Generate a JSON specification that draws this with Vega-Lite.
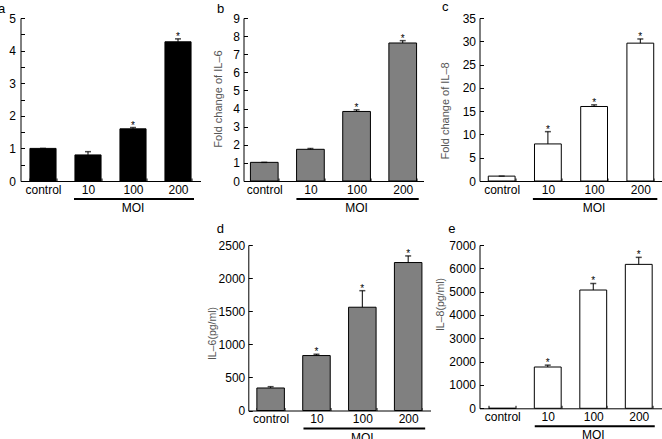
{
  "$schema": "https://vega.github.io/schema/vega-lite/v6.json",
  "autosize": {"type": "none"},
  "padding": {"left": 20.5, "top": 18, "right": 641.5, "bottom": 421},
  "background": "white",
  "bounds": "flush",
  "align": "each",
  "columns": 5,
  "spacing": {"row": 64, "column": 0},
  "datasets": {
    "bars": [
      {"panel": "a", "group": "control", "value": 1.0, "upper": 1.0, "sig": false},
      {"panel": "a", "group": "10", "value": 0.8, "upper": 0.9, "sig": false},
      {"panel": "a", "group": "100", "value": 1.6, "upper": 1.64, "sig": true},
      {"panel": "a", "group": "200", "value": 4.27, "upper": 4.36, "sig": true},
      {"panel": "b", "group": "control", "value": 1.03, "upper": 1.03, "sig": false},
      {"panel": "b", "group": "10", "value": 1.75, "upper": 1.8, "sig": false},
      {"panel": "b", "group": "100", "value": 3.84, "upper": 3.93, "sig": true},
      {"panel": "b", "group": "200", "value": 7.62, "upper": 7.75, "sig": true},
      {"panel": "c", "group": "control", "value": 1.05, "upper": 1.05, "sig": false},
      {"panel": "c", "group": "10", "value": 7.96, "upper": 10.6, "sig": true},
      {"panel": "c", "group": "100", "value": 16.0, "upper": 16.35, "sig": true},
      {"panel": "c", "group": "200", "value": 29.6, "upper": 30.5, "sig": true},
      {"panel": "d", "group": "control", "value": 340, "upper": 360, "sig": false},
      {"panel": "d", "group": "10", "value": 830, "upper": 850, "sig": true},
      {"panel": "d", "group": "100", "value": 1560, "upper": 1810, "sig": true},
      {"panel": "d", "group": "200", "value": 2235, "upper": 2335, "sig": true},
      {"panel": "e", "group": "control", "value": 0, "upper": 0, "sig": false},
      {"panel": "e", "group": "10", "value": 1770, "upper": 1850, "sig": true},
      {"panel": "e", "group": "100", "value": 5070, "upper": 5350, "sig": true},
      {"panel": "e", "group": "200", "value": 6170, "upper": 6470, "sig": true}
    ],
    "moi": [
      {"label": "MOI", "from": "10", "mid": "100", "to": "200"}
    ],
    "blank": [{"v": 0}]
  },
  "concat": [
    {
      "width": 180, "height": 163,
      "title": {"text": "a", "anchor": "start", "frame": "group", "dx": -22.5, "offset": 0, "dy": 10, "baseline": "middle"},
      "data": {"name": "bars"},
      "resolve": {"axis": {"x": "independent", "y": "independent"}},
      "layer": [
        {"transform": [{"filter": "datum.panel === 'a'"}],
         "mark": {"type": "bar", "fill": "#000000", "stroke": "#000000", "strokeWidth": 1},
         "encoding": {
           "x": {"field": "group", "type": "nominal", "scale": {"domain": ["control", "10", "100", "200"], "paddingInner": 0.42, "paddingOuter": 0.21},
                 "axis": {"title": null, "labelAngle": 0, "tickBand": "extent", "tickSize": -3, "labelPadding": 6}},
           "y": {"field": "value", "type": "quantitative", "scale": {"domain": [0, 5], "nice": false},
                 "axis": {"title": "Fold change of IL–1β", "format": "~g", "values": [0, 0.5, 1, 1.5, 2, 2.5, 3, 3.5, 4, 4.5, 5], "labelExpr": "datum.value % 1 === 0 ? datum.label : ''", "labelOverlap": false, "tickSize": -4, "labelPadding": 9, "titleX": -21, "titleY": 81.5, "titleAlign": "center", "titleAngle": -90}}
         }},
        {"transform": [{"filter": "datum.panel === 'a'"}],
         "mark": {"type": "rule", "stroke": "#000000", "strokeWidth": 1},
         "encoding": {"x": {"field": "group", "type": "nominal", "axis": null}, "y": {"field": "value", "type": "quantitative", "axis": null}, "y2": {"field": "upper"}}},
        {"transform": [{"filter": "datum.panel === 'a'"}],
         "mark": {"type": "tick", "color": "#000000", "size": 6, "thickness": 1.5},
         "encoding": {"x": {"field": "group", "type": "nominal", "axis": null}, "y": {"field": "upper", "type": "quantitative", "axis": null}}},
        {"transform": [{"filter": "datum.panel === 'a' && datum.sig"}],
         "mark": {"type": "text", "text": "*", "fontSize": 10, "baseline": "alphabetic", "dy": 1, "fill": "#000000"},
         "encoding": {"x": {"field": "group", "type": "nominal", "axis": null}, "y": {"field": "upper", "type": "quantitative", "axis": null}}},
        {"data": {"name": "moi"},
         "mark": {"type": "rule", "stroke": "#000000", "strokeWidth": 2, "xOffset": -14, "x2Offset": 16, "yOffset": 18},
         "encoding": {"x": {"field": "from", "type": "nominal", "axis": null}, "x2": {"field": "to"}, "y": {"datum": 0, "type": "quantitative", "axis": null}}},
        {"data": {"name": "moi"},
         "mark": {"type": "text", "fontSize": 12, "baseline": "middle", "yOffset": 27, "fill": "#000000"},
         "encoding": {"x": {"field": "mid", "type": "nominal", "axis": null}, "y": {"datum": 0, "type": "quantitative", "axis": null}, "text": {"field": "label"}}}
      ]
    },
    {"width": 43, "height": 163, "data": {"name": "blank"}, "mark": {"type": "point", "opacity": 0}, "encoding": {}},
    {
      "width": 180, "height": 163,
      "title": {"text": "b", "anchor": "start", "frame": "group", "dx": -26.5, "offset": 0, "dy": 10, "baseline": "middle"},
      "data": {"name": "bars"},
      "resolve": {"axis": {"x": "independent", "y": "independent"}},
      "layer": [
        {"transform": [{"filter": "datum.panel === 'b'"}],
         "mark": {"type": "bar", "fill": "#808080", "stroke": "#000000", "strokeWidth": 1},
         "encoding": {
           "x": {"field": "group", "type": "nominal", "scale": {"domain": ["control", "10", "100", "200"], "paddingInner": 0.4, "paddingOuter": 0.15},
                 "axis": {"title": null, "labelAngle": 0, "tickBand": "extent", "tickSize": -3, "labelPadding": 6}},
           "y": {"field": "value", "type": "quantitative", "scale": {"domain": [0, 9], "nice": false},
                 "axis": {"title": "Fold change of IL–6", "values": [0, 1, 2, 3, 4, 5, 6, 7, 8, 9], "labelOverlap": false, "tickSize": -4, "labelPadding": 8, "titleX": -19.8, "titleY": 80.5, "titleAlign": "center", "titleAngle": -90}}
         }},
        {"transform": [{"filter": "datum.panel === 'b'"}],
         "mark": {"type": "rule", "stroke": "#000000", "strokeWidth": 1},
         "encoding": {"x": {"field": "group", "type": "nominal", "axis": null}, "y": {"field": "value", "type": "quantitative", "axis": null}, "y2": {"field": "upper"}}},
        {"transform": [{"filter": "datum.panel === 'b'"}],
         "mark": {"type": "tick", "color": "#000000", "size": 6, "thickness": 1.5},
         "encoding": {"x": {"field": "group", "type": "nominal", "axis": null}, "y": {"field": "upper", "type": "quantitative", "axis": null}}},
        {"transform": [{"filter": "datum.panel === 'b' && datum.sig"}],
         "mark": {"type": "text", "text": "*", "fontSize": 10, "baseline": "alphabetic", "dy": 1, "fill": "#000000"},
         "encoding": {"x": {"field": "group", "type": "nominal", "axis": null}, "y": {"field": "upper", "type": "quantitative", "axis": null}}},
        {"data": {"name": "moi"},
         "mark": {"type": "rule", "stroke": "#000000", "strokeWidth": 2, "xOffset": -14, "x2Offset": 16, "yOffset": 18},
         "encoding": {"x": {"field": "from", "type": "nominal", "axis": null}, "x2": {"field": "to"}, "y": {"datum": 0, "type": "quantitative", "axis": null}}},
        {"data": {"name": "moi"},
         "mark": {"type": "text", "fontSize": 12, "baseline": "middle", "yOffset": 27, "fill": "#000000"},
         "encoding": {"x": {"field": "mid", "type": "nominal", "axis": null}, "y": {"datum": 0, "type": "quantitative", "axis": null}, "text": {"field": "label"}}}
      ]
    },
    {"width": 48.8, "height": 163, "data": {"name": "blank"}, "mark": {"type": "point", "opacity": 0}, "encoding": {}},
    {
      "width": 183, "height": 163,
      "title": {"text": "c", "anchor": "start", "frame": "group", "dx": -37.6, "offset": 0, "dy": 8, "baseline": "middle"},
      "data": {"name": "bars"},
      "resolve": {"axis": {"x": "independent", "y": "independent"}},
      "layer": [
        {"transform": [{"filter": "datum.panel === 'c'"}],
         "mark": {"type": "bar", "fill": "#ffffff", "stroke": "#000000", "strokeWidth": 1},
         "encoding": {
           "x": {"field": "group", "type": "nominal", "scale": {"domain": ["control", "10", "100", "200"], "paddingInner": 0.42, "paddingOuter": 0.19},
                 "axis": {"title": null, "labelAngle": 0, "tickBand": "extent", "tickSize": -3, "labelPadding": 6}},
           "y": {"field": "value", "type": "quantitative", "scale": {"domain": [0, 35], "nice": false},
                 "axis": {"title": "Fold change of IL–8", "values": [0, 5, 10, 15, 20, 25, 30, 35], "labelOverlap": false, "tickSize": -4, "labelPadding": 8, "titleX": -28.8, "titleY": 92.4, "titleAlign": "center", "titleAngle": -90}}
         }},
        {"transform": [{"filter": "datum.panel === 'c'"}],
         "mark": {"type": "rule", "stroke": "#000000", "strokeWidth": 1},
         "encoding": {"x": {"field": "group", "type": "nominal", "axis": null}, "y": {"field": "value", "type": "quantitative", "axis": null}, "y2": {"field": "upper"}}},
        {"transform": [{"filter": "datum.panel === 'c'"}],
         "mark": {"type": "tick", "color": "#000000", "size": 6, "thickness": 1.5},
         "encoding": {"x": {"field": "group", "type": "nominal", "axis": null}, "y": {"field": "upper", "type": "quantitative", "axis": null}}},
        {"transform": [{"filter": "datum.panel === 'c' && datum.sig"}],
         "mark": {"type": "text", "text": "*", "fontSize": 10, "baseline": "alphabetic", "dy": 1, "fill": "#000000"},
         "encoding": {"x": {"field": "group", "type": "nominal", "axis": null}, "y": {"field": "upper", "type": "quantitative", "axis": null}}},
        {"data": {"name": "moi"},
         "mark": {"type": "rule", "stroke": "#000000", "strokeWidth": 2, "xOffset": -15, "x2Offset": 17, "yOffset": 18},
         "encoding": {"x": {"field": "from", "type": "nominal", "axis": null}, "x2": {"field": "to"}, "y": {"datum": 0, "type": "quantitative", "axis": null}}},
        {"data": {"name": "moi"},
         "mark": {"type": "text", "fontSize": 12, "baseline": "middle", "yOffset": 27, "fill": "#000000"},
         "encoding": {"x": {"field": "mid", "type": "nominal", "axis": null}, "y": {"datum": 0, "type": "quantitative", "axis": null}, "text": {"field": "label"}}}
      ]
    },
    {"width": 180, "height": 165, "data": {"name": "blank"}, "mark": {"type": "point", "opacity": 0}, "encoding": {}},
    {"width": 43, "height": 165, "data": {"name": "blank"}, "mark": {"type": "point", "opacity": 0}, "encoding": {}},
    {
      "width": 187, "height": 165.5,
      "title": {"text": "d", "anchor": "start", "frame": "group", "dx": -26.8, "offset": 0, "dy": 3, "baseline": "middle"},
      "data": {"name": "bars"},
      "resolve": {"axis": {"x": "independent", "y": "independent"}},
      "layer": [
        {"transform": [{"filter": "datum.panel === 'd'"}],
         "mark": {"type": "bar", "fill": "#808080", "stroke": "#000000", "strokeWidth": 1},
         "encoding": {
           "x": {"field": "group", "type": "nominal", "scale": {"domain": ["control", "10", "100", "200"], "range": [4.8, 187], "paddingInner": 0.4, "paddingOuter": 0.187},
                 "axis": {"title": null, "labelAngle": 0, "tickBand": "extent", "tickSize": -3, "labelPadding": 6}},
           "y": {"field": "value", "type": "quantitative", "scale": {"domain": [0, 2500], "nice": false},
                 "axis": {"title": "IL–6(pg/ml)", "format": "d", "values": [0, 500, 1000, 1500, 2000, 2500], "labelOverlap": false, "offset": -4.8, "tickSize": -4, "labelPadding": 7.5, "titleX": -30.8, "titleY": 88, "titleAlign": "center", "titleAngle": -90, "titleFontSize": 10.5}}
         }},
        {"transform": [{"filter": "datum.panel === 'd'"}],
         "mark": {"type": "rule", "stroke": "#000000", "strokeWidth": 1},
         "encoding": {"x": {"field": "group", "type": "nominal", "axis": null}, "y": {"field": "value", "type": "quantitative", "axis": null}, "y2": {"field": "upper"}}},
        {"transform": [{"filter": "datum.panel === 'd'"}],
         "mark": {"type": "tick", "color": "#000000", "size": 6, "thickness": 1.5},
         "encoding": {"x": {"field": "group", "type": "nominal", "axis": null}, "y": {"field": "upper", "type": "quantitative", "axis": null}}},
        {"transform": [{"filter": "datum.panel === 'd' && datum.sig"}],
         "mark": {"type": "text", "text": "*", "fontSize": 10, "baseline": "alphabetic", "dy": 1, "fill": "#000000"},
         "encoding": {"x": {"field": "group", "type": "nominal", "axis": null}, "y": {"field": "upper", "type": "quantitative", "axis": null}}},
        {"data": {"name": "moi"},
         "mark": {"type": "rule", "stroke": "#000000", "strokeWidth": 2, "xOffset": -13, "x2Offset": 17, "yOffset": 18},
         "encoding": {"x": {"field": "from", "type": "nominal", "axis": null}, "x2": {"field": "to"}, "y": {"datum": 0, "type": "quantitative", "axis": null}}},
        {"data": {"name": "moi"},
         "mark": {"type": "text", "fontSize": 12, "baseline": "middle", "yOffset": 27, "fill": "#000000"},
         "encoding": {"x": {"field": "mid", "type": "nominal", "axis": null}, "y": {"datum": 0, "type": "quantitative", "axis": null}, "text": {"field": "label"}}}
      ]
    },
    {"width": 48.8, "height": 165, "data": {"name": "blank"}, "mark": {"type": "point", "opacity": 0}, "encoding": {}},
    {
      "width": 182, "height": 163.3,
      "title": {"text": "e", "anchor": "start", "frame": "group", "dx": -31.3, "offset": 0, "dy": 3, "baseline": "middle"},
      "data": {"name": "bars"},
      "resolve": {"axis": {"x": "independent", "y": "independent"}},
      "layer": [
        {"transform": [{"filter": "datum.panel === 'e'"}],
         "mark": {"type": "bar", "fill": "#ffffff", "stroke": "#000000", "strokeWidth": 1},
         "encoding": {
           "x": {"field": "group", "type": "nominal", "scale": {"domain": ["control", "10", "100", "200"], "paddingInner": 0.41, "paddingOuter": 0.205},
                 "axis": {"title": null, "labelAngle": 0, "tickBand": "extent", "tickSize": -3, "labelPadding": 6}},
           "y": {"field": "value", "type": "quantitative", "scale": {"domain": [0, 7000], "nice": false},
                 "axis": {"title": "IL–8(pg/ml)", "format": "d", "values": [0, 1000, 2000, 3000, 4000, 5000, 6000, 7000], "labelOverlap": false, "tickSize": -4, "labelPadding": 8, "titleX": -34.5, "titleY": 59, "titleAlign": "center", "titleAngle": -90, "titleFontSize": 10.5}}
         }},
        {"transform": [{"filter": "datum.panel === 'e' && datum.upper > datum.value"}],
         "mark": {"type": "rule", "stroke": "#000000", "strokeWidth": 1},
         "encoding": {"x": {"field": "group", "type": "nominal", "axis": null}, "y": {"field": "value", "type": "quantitative", "axis": null}, "y2": {"field": "upper"}}},
        {"transform": [{"filter": "datum.panel === 'e' && datum.upper > datum.value"}],
         "mark": {"type": "tick", "color": "#000000", "size": 6, "thickness": 1.5},
         "encoding": {"x": {"field": "group", "type": "nominal", "axis": null}, "y": {"field": "upper", "type": "quantitative", "axis": null}}},
        {"transform": [{"filter": "datum.panel === 'e' && datum.sig"}],
         "mark": {"type": "text", "text": "*", "fontSize": 10, "baseline": "alphabetic", "dy": 1, "fill": "#000000"},
         "encoding": {"x": {"field": "group", "type": "nominal", "axis": null}, "y": {"field": "upper", "type": "quantitative", "axis": null}}},
        {"data": {"name": "moi"},
         "mark": {"type": "rule", "stroke": "#000000", "strokeWidth": 2, "xOffset": -13, "x2Offset": 16, "yOffset": 18},
         "encoding": {"x": {"field": "from", "type": "nominal", "axis": null}, "x2": {"field": "to"}, "y": {"datum": 0, "type": "quantitative", "axis": null}}},
        {"data": {"name": "moi"},
         "mark": {"type": "text", "fontSize": 12, "baseline": "middle", "yOffset": 27, "fill": "#000000"},
         "encoding": {"x": {"field": "mid", "type": "nominal", "axis": null}, "y": {"datum": 0, "type": "quantitative", "axis": null}, "text": {"field": "label"}}}
      ]
    }
  ],
  "config": {
    "font": "Liberation Sans",
    "view": {"stroke": null},
    "axis": {
      "domainColor": "#000000", "domainWidth": 1, "tickColor": "#000000", "tickWidth": 1,
      "labelColor": "#000000", "labelFont": "Liberation Sans", "labelFontSize": 12,
      "labelOverlap": false, "labelFlush": false,
      "titleFont": "Liberation Sans", "titleFontSize": 11, "titleFontWeight": "normal", "titleColor": "#555555",
      "grid": false
    },
    "title": {"font": "Liberation Sans", "fontSize": 13, "fontWeight": "normal", "color": "#000000"}
  }
}
